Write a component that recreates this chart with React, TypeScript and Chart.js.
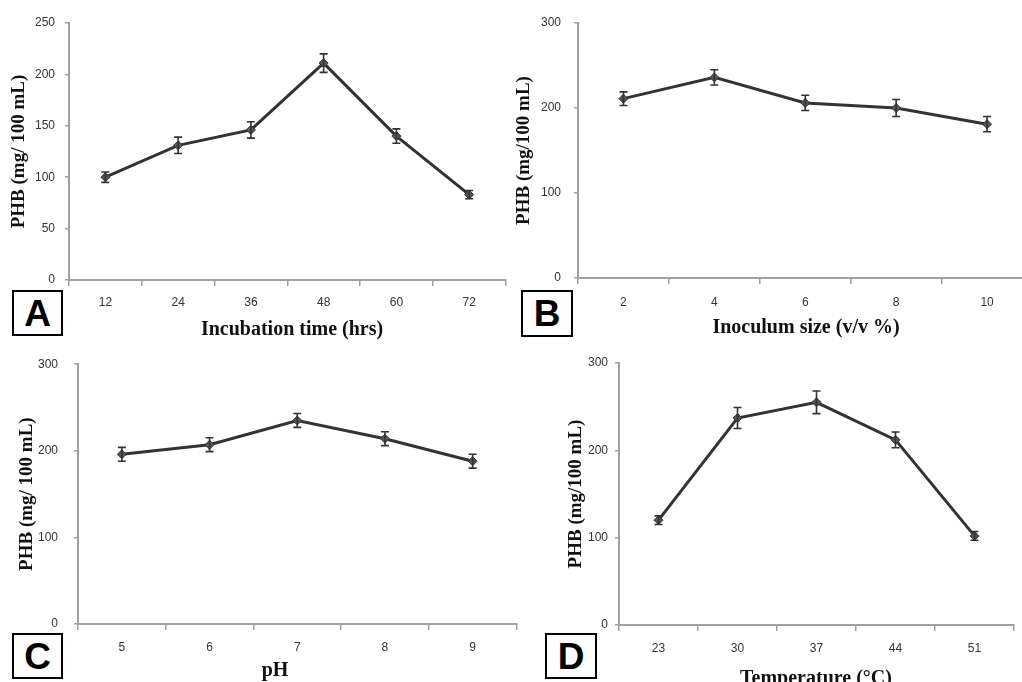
import React, { useEffect, useRef } from "react";
import { Chart, registerables } from "chart.js";
Chart.register(...registerables);

// Panel A: incubation time
const timeLabels = ["12", "24", "36", "48", "60", "72"];
const timeValues = [100, 131, 146, 211, 140, 83];
const timeErrors = [5, 8, 8, 9, 7, 4];

// Panel B: inoculum size
const inoculumLabels = ["2", "4", "6", "8", "10"];
const inoculumValues = [211, 236, 206, 200, 181];
const inoculumErrors = [8, 9, 9, 10, 9];

// Panel C: pH
const phLabels = ["5", "6", "7", "8", "9"];
const phValues = [196, 207, 235, 214, 188];
const phErrors = [8, 8, 8, 8, 8];

// Panel D: temperature
const tempLabels = ["23", "30", "37", "44", "51"];
const tempValues = [120, 237, 255, 212, 102];
const tempErrors = [5, 12, 13, 9, 5];

const errorBarPlugin = {
  id: "errorBars",
  afterDatasetsDraw(chart: any, _args: any, opts: any) {
    const errs: number[] = opts.errors || [];
    const ds = chart.data.datasets[0];
    const meta = chart.getDatasetMeta(0);
    const ys = chart.scales.y;
    const ctx = chart.ctx;
    ctx.save();
    ctx.strokeStyle = "#333";
    ctx.lineWidth = 1.6;
    meta.data.forEach((pt: any, i: number) => {
      const v = ds.data[i] as number;
      const e = errs[i] || 0;
      const x = pt.x;
      const y1 = ys.getPixelForValue(v + e);
      const y2 = ys.getPixelForValue(v - e);
      ctx.beginPath();
      ctx.moveTo(x, y1);
      ctx.lineTo(x, y2);
      ctx.moveTo(x - 4, y1);
      ctx.lineTo(x + 4, y1);
      ctx.moveTo(x - 4, y2);
      ctx.lineTo(x + 4, y2);
      ctx.stroke();
    });
    ctx.restore();
  },
};

const xTitlePlugin = {
  id: "xTitle",
  afterDraw(chart: any, _args: any, opts: any) {
    if (!opts.text) return;
    const ctx = chart.ctx;
    ctx.save();
    ctx.font = opts.font || "bold 20px 'Liberation Serif'";
    ctx.fillStyle = "#111";
    ctx.textAlign = "center";
    ctx.textBaseline = "middle";
    ctx.fillText(opts.text, opts.x, opts.y);
    ctx.restore();
  },
};

type PanelProps = {
  left: number;
  top: number;
  width: number;
  height: number;
  labels: string[];
  values: number[];
  errors: number[];
  yMax: number;
  yStep: number;
  padTop: number;
  padRight: number;
  yWidth: number;
  xHeight: number;
  yTickPad: number;
  xTickPad: number;
  yTitle: string;
  yTitlePad: number;
  xTitle: string;
  xTitleX: number;
  xTitleY: number;
};

function Panel(p: PanelProps) {
  const ref = useRef<HTMLCanvasElement | null>(null);
  useEffect(() => {
    if (!ref.current) return;
    const axisColor = "#a0a0a0";
    const chart = new Chart(ref.current, {
      type: "line",
      data: {
        labels: p.labels,
        datasets: [
          {
            data: p.values,
            borderColor: "#333",
            borderWidth: 3,
            pointStyle: "rectRot",
            pointRadius: 4.5,
            pointBackgroundColor: "#555",
            pointBorderColor: "#333",
            pointBorderWidth: 1,
            tension: 0,
            fill: false,
          },
        ],
      },
      plugins: [errorBarPlugin, xTitlePlugin],
      options: {
        animation: false,
        responsive: false,
        maintainAspectRatio: false,
        devicePixelRatio: 1,
        layout: { padding: { left: 0, top: p.padTop, right: p.padRight, bottom: 0 } },
        plugins: {
          legend: { display: false },
          tooltip: { enabled: false },
          errorBars: { errors: p.errors },
          xTitle: { text: p.xTitle, x: p.xTitleX, y: p.xTitleY },
        } as any,
        scales: {
          x: {
            type: "category",
            offset: true,
            afterFit: (s: any) => {
              s.height = p.xHeight;
            },
            grid: {
              offset: true,
              drawOnChartArea: false,
              drawTicks: true,
              tickLength: 6,
              color: axisColor,
              lineWidth: 1.5,
            },
            border: { color: axisColor, width: 2 },
            ticks: {
              color: "#333",
              font: { family: "'Liberation Sans'", size: 12 },
              padding: p.xTickPad,
              maxRotation: 0,
            },
          },
          y: {
            min: 0,
            max: p.yMax,
            afterFit: (s: any) => {
              s.width = p.yWidth;
            },
            grid: {
              drawOnChartArea: false,
              drawTicks: true,
              tickLength: 4,
              color: axisColor,
              lineWidth: 1.5,
            },
            border: { color: axisColor, width: 2 },
            ticks: {
              stepSize: p.yStep,
              color: "#333",
              font: { family: "'Liberation Sans'", size: 12 },
              padding: p.yTickPad,
            },
            title: {
              display: true,
              text: p.yTitle,
              color: "#111",
              font: { family: "'Liberation Serif'", size: 19, weight: "bold" },
              padding: { top: p.yTitlePad, bottom: 0 },
            },
          },
        },
      },
    });
    return () => chart.destroy();
  }, []);
  return (
    <div style={{ position: "absolute", left: p.left, top: p.top, width: p.width, height: p.height }}>
      <canvas ref={ref} width={p.width} height={p.height} style={{ display: "block" }} />
    </div>
  );
}

function LetterBox(props: { letter: string; left: number; top: number; width: number; height: number }) {
  return (
    <div
      style={{
        position: "absolute",
        left: props.left,
        top: props.top,
        width: props.width,
        height: props.height,
        boxSizing: "border-box",
        border: "2px solid #000",
        background: "#fff",
        display: "flex",
        alignItems: "center",
        justifyContent: "center",
        fontFamily: "'Liberation Sans', Arial, sans-serif",
        fontWeight: "bold",
        fontSize: 37,
        color: "#000",
        lineHeight: 1,
      }}
    >
      {props.letter}
    </div>
  );
}

export default function App() {
  useEffect(() => {
    document.body.style.margin = "0";
    document.body.style.background = "#fff";
  }, []);
  return (
    <div style={{ position: "relative", width: 1022, height: 682, overflow: "hidden", background: "#fff" }}>
      <Panel
        left={0}
        top={0}
        width={511}
        height={341}
        labels={timeLabels}
        values={timeValues}
        errors={timeErrors}
        yMax={250}
        yStep={50}
        padTop={23}
        padRight={0}
        yWidth={69}
        xHeight={61}
        yTickPad={10}
        xTickPad={9}
        yTitle="PHB (mg/ 100 mL)"
        yTitlePad={8}
        xTitle="Incubation time (hrs)"
        xTitleX={292}
        xTitleY={330}
      />
      <Panel
        left={511}
        top={0}
        width={527}
        height={341}
        labels={inoculumLabels}
        values={inoculumValues}
        errors={inoculumErrors}
        yMax={300}
        yStep={100}
        padTop={23}
        padRight={0}
        yWidth={67}
        xHeight={63}
        yTickPad={13}
        xTickPad={11}
        yTitle="PHB (mg/100 mL)"
        yTitlePad={2}
        xTitle="Inoculum size (v/v %)"
        xTitleX={295}
        xTitleY={328}
      />
      <Panel
        left={0}
        top={341}
        width={522}
        height={341}
        labels={phLabels}
        values={phValues}
        errors={phErrors}
        yMax={300}
        yStep={100}
        padTop={14}
        padRight={0}
        yWidth={78}
        xHeight={58}
        yTickPad={16}
        xTickPad={10}
        yTitle="PHB (mg/ 100 mL)"
        yTitlePad={16}
        xTitle="pH"
        xTitleX={275}
        xTitleY={330}
      />
      <Panel
        left={511}
        top={341}
        width={511}
        height={341}
        labels={tempLabels}
        values={tempValues}
        errors={tempErrors}
        yMax={300}
        yStep={100}
        padTop={22}
        padRight={8}
        yWidth={108}
        xHeight={57}
        yTickPad={7}
        xTickPad={10}
        yTitle="PHB (mg/100 mL)"
        yTitlePad={54}
        xTitle="Temperature (°C)"
        xTitleX={305}
        xTitleY={338}
      />
      <LetterBox letter="A" left={12} top={290} width={51} height={46} />
      <LetterBox letter="B" left={521} top={290} width={52} height={47} />
      <LetterBox letter="C" left={12} top={633} width={51} height={46} />
      <LetterBox letter="D" left={545} top={633} width={52} height={46} />
    </div>
  );
}
